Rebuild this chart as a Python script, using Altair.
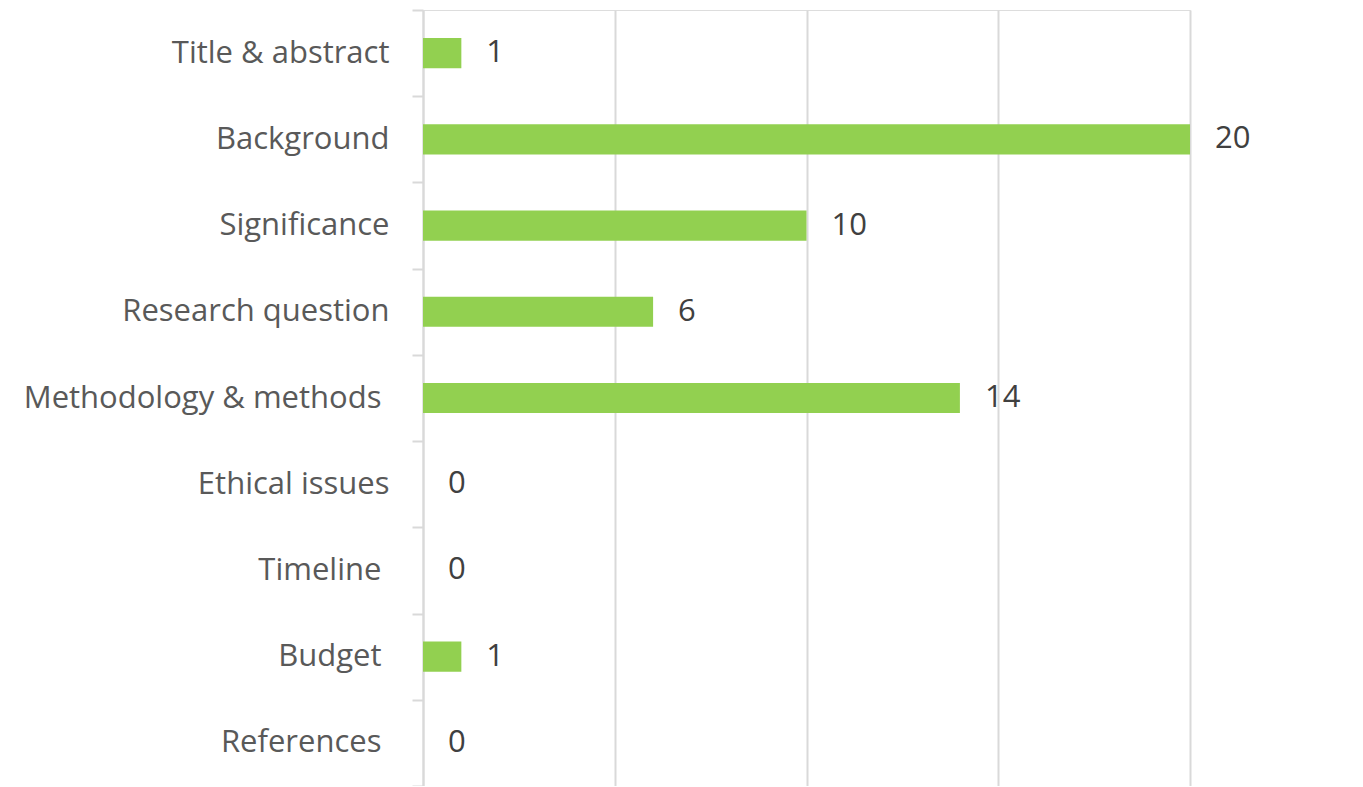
import altair as alt
import pandas as pd

SP = "\u00a0\u2060"
categories = ["Title & abstract", "Background", "Significance", "Research question",
              "Methodology & methods" + SP, "Ethical issues", "Timeline" + SP, "Budget" + SP, "References" + SP]
values = [1, 20, 10, 6, 14, 0, 0, 1, 0]

df = pd.DataFrame({"category": categories, "value": values})

FONT = "Open Sans"

y = alt.Y("category:N", sort=categories, title=None,
          scale=alt.Scale(paddingInner=0, paddingOuter=0),
          axis=alt.Axis(tickBand="extent", tickSize=11, tickColor="#d9d9d9", tickWidth=2,
                        domainColor="#d9d9d9", domainWidth=2, labelPadding=23,
                        labelFont=FONT, labelFontSize=31, labelColor="#595959",
                        labelLimit=600, grid=False))
x = alt.X("value:Q", title=None, scale=alt.Scale(domain=[0, 20], nice=False),
          axis=alt.Axis(values=[0, 5, 10, 15, 20], labels=False, ticks=False, domain=False,
                        grid=True, gridColor="#d9d9d9", gridWidth=2))

bars = alt.Chart(df).mark_bar(color="#92D050", height=alt.RelativeBandSize(0.35)).encode(x=x, y=y)
labels = alt.Chart(df).mark_text(align="left", baseline="middle", dx=25, font=FONT,
                                 fontSize=31, color="#404040").encode(
    x=alt.X("value:Q"), y=alt.Y("category:N", sort=categories), text="value:Q")

chart = (bars + labels).properties(
    width=767, height=776,
    autosize=alt.AutoSizeParams(type="none"),
    padding={"left": 415, "top": 2, "right": 140, "bottom": 0},
).configure_view(stroke=None).configure(background="white")

chart.save("out.html", embed_options={"renderer": "svg", "actions": False})
